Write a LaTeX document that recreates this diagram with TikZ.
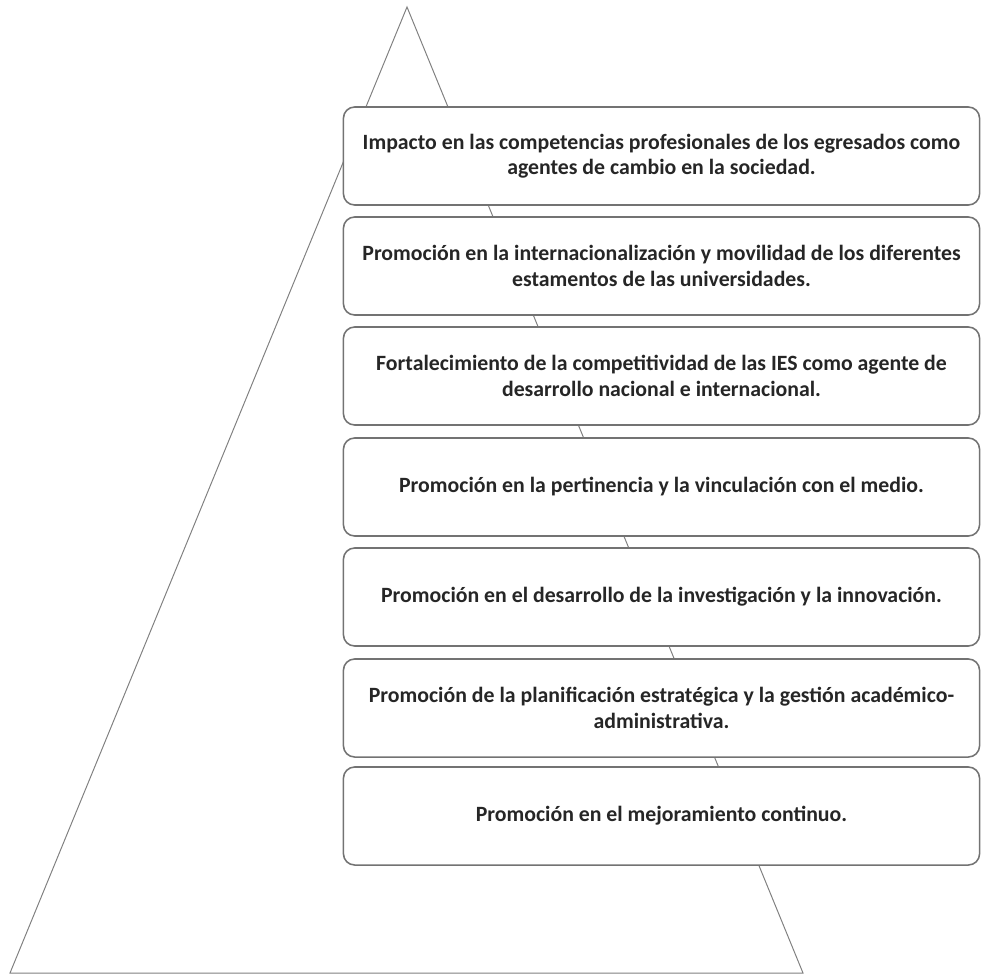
\documentclass[tikz,border=0pt]{standalone}
\usepackage{fontspec}
\setmainfont{Carlito}
\usepackage{tikz}

\begin{document}
\begin{tikzpicture}[x=0.025cm, y=-0.025cm,
  nivel/.style={draw=black!55, line width=1.1pt, fill=white, rounded corners=8pt,
    minimum width=15.9cm, minimum height=2.45cm, align=center, text=black!85,
    font=\fontsize{15.5}{18}\selectfont\bfseries}]

\useasboundingbox (0,0) rectangle (982,976);

% Pyramid
\coordinate (apex)  at (407,7);
\coordinate (baseL) at (10,973);
\coordinate (baseR) at (803,973);
\draw[black!50, line width=0.7pt] (apex) -- (baseL) -- (baseR) -- cycle;

% Level 1
\node[nivel] (L1) at (661.5,156) {Impacto en las competencias profesionales de los egresados como\\ agentes de cambio en la sociedad.};

% Level 2
\node[nivel] (L2) at (661.5,266) {Promoción en la internacionalización y movilidad de los diferentes\\ estamentos de las universidades.};

% Level 3
\node[nivel] (L3) at (661.5,376) {Fortalecimiento de la competitividad de las IES como agente de\\ desarrollo nacional e internacional.};

% Level 4
\node[nivel] (L4) at (661.5,487) {Promoción en la pertinencia y la vinculación con el medio.};

% Level 5
\node[nivel] (L5) at (661.5,597) {Promoción en el desarrollo de la investigación y la innovación.};

% Level 6
\node[nivel] (L6) at (661.5,708) {Promoción de la planificación estratégica y la gestión académico-\\ administrativa.};

% Level 7
\node[nivel] (L7) at (661.5,816) {Promoción en el mejoramiento continuo.};

\end{tikzpicture}
\end{document}
